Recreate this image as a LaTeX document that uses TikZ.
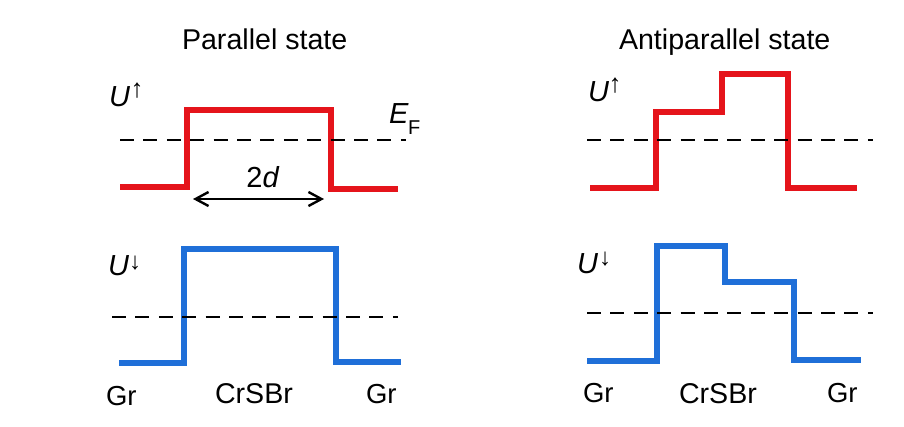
\documentclass[tikz,border=0pt]{standalone}
\usetikzlibrary{arrows.meta}
\usepackage{fontspec}
\setmainfont{Liberation Sans}
\definecolor{barred}{HTML}{E5141B}
\definecolor{barblue}{HTML}{1F6FD8}
\tikzset{
  x=1pt,y=-1pt,
  upbar/.style={draw=barred,line width=6.5pt,miter limit=10},
  downbar/.style={draw=barblue,line width=6.5pt,miter limit=10},
  fermi/.style={draw=black,line width=2.1pt,dash pattern=on 14pt off 9.4pt},
  lab/.style={anchor=base west,inner sep=0pt,outer sep=0pt,font=\fontsize{28.6}{32}\selectfont},
  grlab/.style={anchor=base west,inner sep=0pt,outer sep=0pt,font=\fontsize{27.5}{32}\selectfont},
  sym/.style={anchor=base west,inner sep=0pt,outer sep=0pt,font=\fontsize{29}{32}\selectfont},
  spinup/.style={anchor=base,inner sep=0pt,outer sep=0pt,font=\fontsize{26}{30}\selectfont},
  spindown/.style={anchor=base,inner sep=0pt,outer sep=0pt,font=\fontsize{24}{28}\selectfont},
  sub/.style={anchor=base west,inner sep=0pt,outer sep=0pt,font=\fontsize{20}{24}\selectfont},
}
\begin{document}
\begin{tikzpicture}
\useasboundingbox (0,0) rectangle (904,426);
% titles
\node[lab] (t1) at (182,49) {Parallel state};
\node[lab] (t2) at (619,49) {Antiparallel state};
% parallel up
\draw[upbar] (120,187) -- (187,187) -- (187,110) -- (331,110) -- (331,189) -- (398,189);
\draw[fermi] (120,140) -- (406,140);
% parallel down
\draw[downbar] (119,363) -- (184,363) -- (184,249) -- (336,249) -- (336,362) -- (401,362);
\draw[fermi] (112,317) -- (398,317);
% antiparallel up
\draw[upbar] (590,188) -- (656,188) -- (656,112) -- (722,112) -- (722,74) -- (788,74) -- (788,188) -- (857,188);
\draw[fermi] (587,140) -- (873,140);
% antiparallel down
\draw[downbar] (587,361) -- (657,361) -- (657,246) -- (725,246) -- (725,282) -- (794,282) -- (794,360) -- (861,360);
\draw[fermi] (587,313) -- (873,313);
% width arrow
\coordinate (wl) at (193,199);
\coordinate (wr) at (324,199);
\draw[line width=2.4pt,{Straight Barb[length=13pt,width=14pt]}-{Straight Barb[length=13pt,width=14pt]}] (wl) -- (wr);
\node[sym,anchor=base] (twod) at (263,187) {2\textit{d}};
% symbols
\node[sym] (uu1) at (109,106) {\textit{U}};
\node[spinup] (au1) at (137,97) {↑};
\node[sym] (ud1) at (108,275) {\textit{U}};
\node[spindown] (ad1) at (135,269) {↓};
\node[sym] (uu2) at (588,101) {\textit{U}};
\node[spinup] (au2) at (615,92) {↑};
\node[sym] (ud2) at (577,273) {\textit{U}};
\node[spindown] (ad2) at (605,265) {↓};
\node[sym] (ef) at (389,123) {\textit{E}};
\node[sub] (ff) at (408,134) {F};
% materials
\node[grlab] (g1) at (106,405) {Gr};
\node[lab] (c1) at (215,403) {CrSBr};
\node[grlab] (g2) at (366,403) {Gr};
\node[grlab] (g3) at (583,402) {Gr};
\node[lab] (c2) at (679,403) {CrSBr};
\node[grlab] (g4) at (827,402) {Gr};
\end{tikzpicture}
\end{document}
